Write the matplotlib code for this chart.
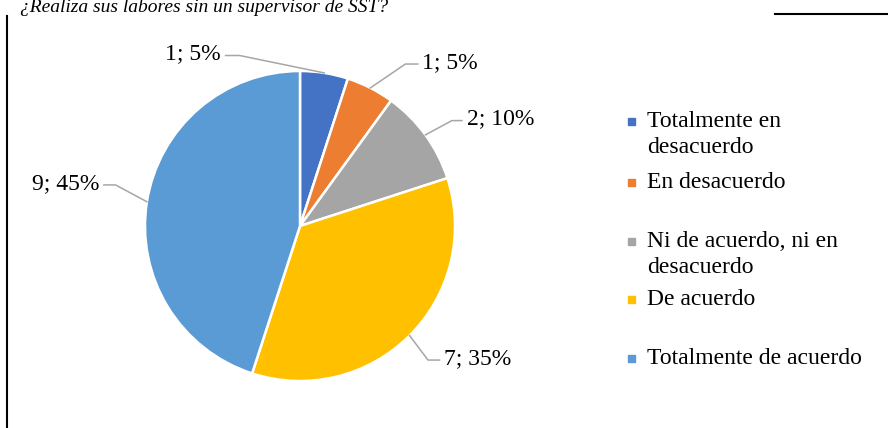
import matplotlib
matplotlib.use("Agg")
import matplotlib.pyplot as plt
from matplotlib.lines import Line2D
from matplotlib.patches import Rectangle
import numpy as np

plt.rcParams['font.family'] = ['Liberation Serif', 'DejaVu Serif']

# datos
categorias = ["Totalmente en\ndesacuerdo", "En desacuerdo", "Ni de acuerdo, ni en\ndesacuerdo",
              "De acuerdo", "Totalmente de acuerdo"]
valores = [1, 1, 2, 7, 9]
porcentajes = [5, 5, 10, 35, 45]
colores = ["#4472C4", "#ED7D31", "#A5A5A5", "#FFC000", "#5B9BD5"]

# posiciones de etiquetas (en radios del pastel): codo, fin de línea
codos = [(-0.39, 1.10), (0.68, 1.045), (0.98, 0.68), (0.826, -0.865), (-1.19, 0.265)]
fines = [(-0.48, 1.10), (0.76, 1.045), (1.045, 0.68), (0.90, -0.865), (-1.265, 0.265)]

W, H = 888, 428
fig = plt.figure(figsize=(W / 100, H / 100), dpi=100)

# pastel: centro (300, 226) px, radio 155 px
cx, cy, R, half = 300, 226, 155, 200
ax = fig.add_axes([(cx - half) / W, (H - cy - half) / H, 2 * half / W, 2 * half / H])

wedges, _ = ax.pie(valores, colors=colores, startangle=90, counterclock=False,
                   radius=1, wedgeprops=dict(edgecolor="white", linewidth=1.8))
ax.set_xlim(-half / R, half / R)
ax.set_ylim(-half / R, half / R)
ax.axis("off")

for w, v, p, codo, fin in zip(wedges, valores, porcentajes, codos, fines):
    ang = np.deg2rad((w.theta1 + w.theta2) / 2)
    x0, y0 = np.cos(ang), np.sin(ang)
    ax.add_line(Line2D([x0, codo[0], fin[0]], [y0, codo[1], fin[1]],
                       color="#A6A6A6", lw=1.1, clip_on=False))
    ha = "left" if fin[0] > codo[0] else "right"
    dx = 0.03 if ha == "left" else -0.03
    ax.text(fin[0] + dx, fin[1] + 0.01, f"{v}; {p}%", ha=ha, va="center",
            fontsize=17, clip_on=False)

# leyenda manual
leg_y = [121, 182, 241, 299, 358]
for lab, col, y in zip(categorias, colores, leg_y):
    fig.patches.append(Rectangle((628 / W, 1 - (y + 4) / H), 7 / W, 7 / H,
                                 transform=fig.transFigure, color=col))
    fig.text(647 / W, 1 - (y - 10) / H, lab, ha="left", va="top",
             fontsize=17, linespacing=1.3)

# título cortado y líneas del documento
fig.text(20 / W, 1 - 12 / H, "¿Realiza sus labores sin un supervisor de SST?",
         ha="left", va="baseline", fontsize=14, style="italic")
fig.add_artist(Line2D([775 / W, 1], [1 - 14 / H, 1 - 14 / H], color="black", lw=1.5))
fig.add_artist(Line2D([7 / W, 7 / W], [0, 1 - 16 / H], color="black", lw=1.5))

fig.savefig("out.png", dpi=100)
